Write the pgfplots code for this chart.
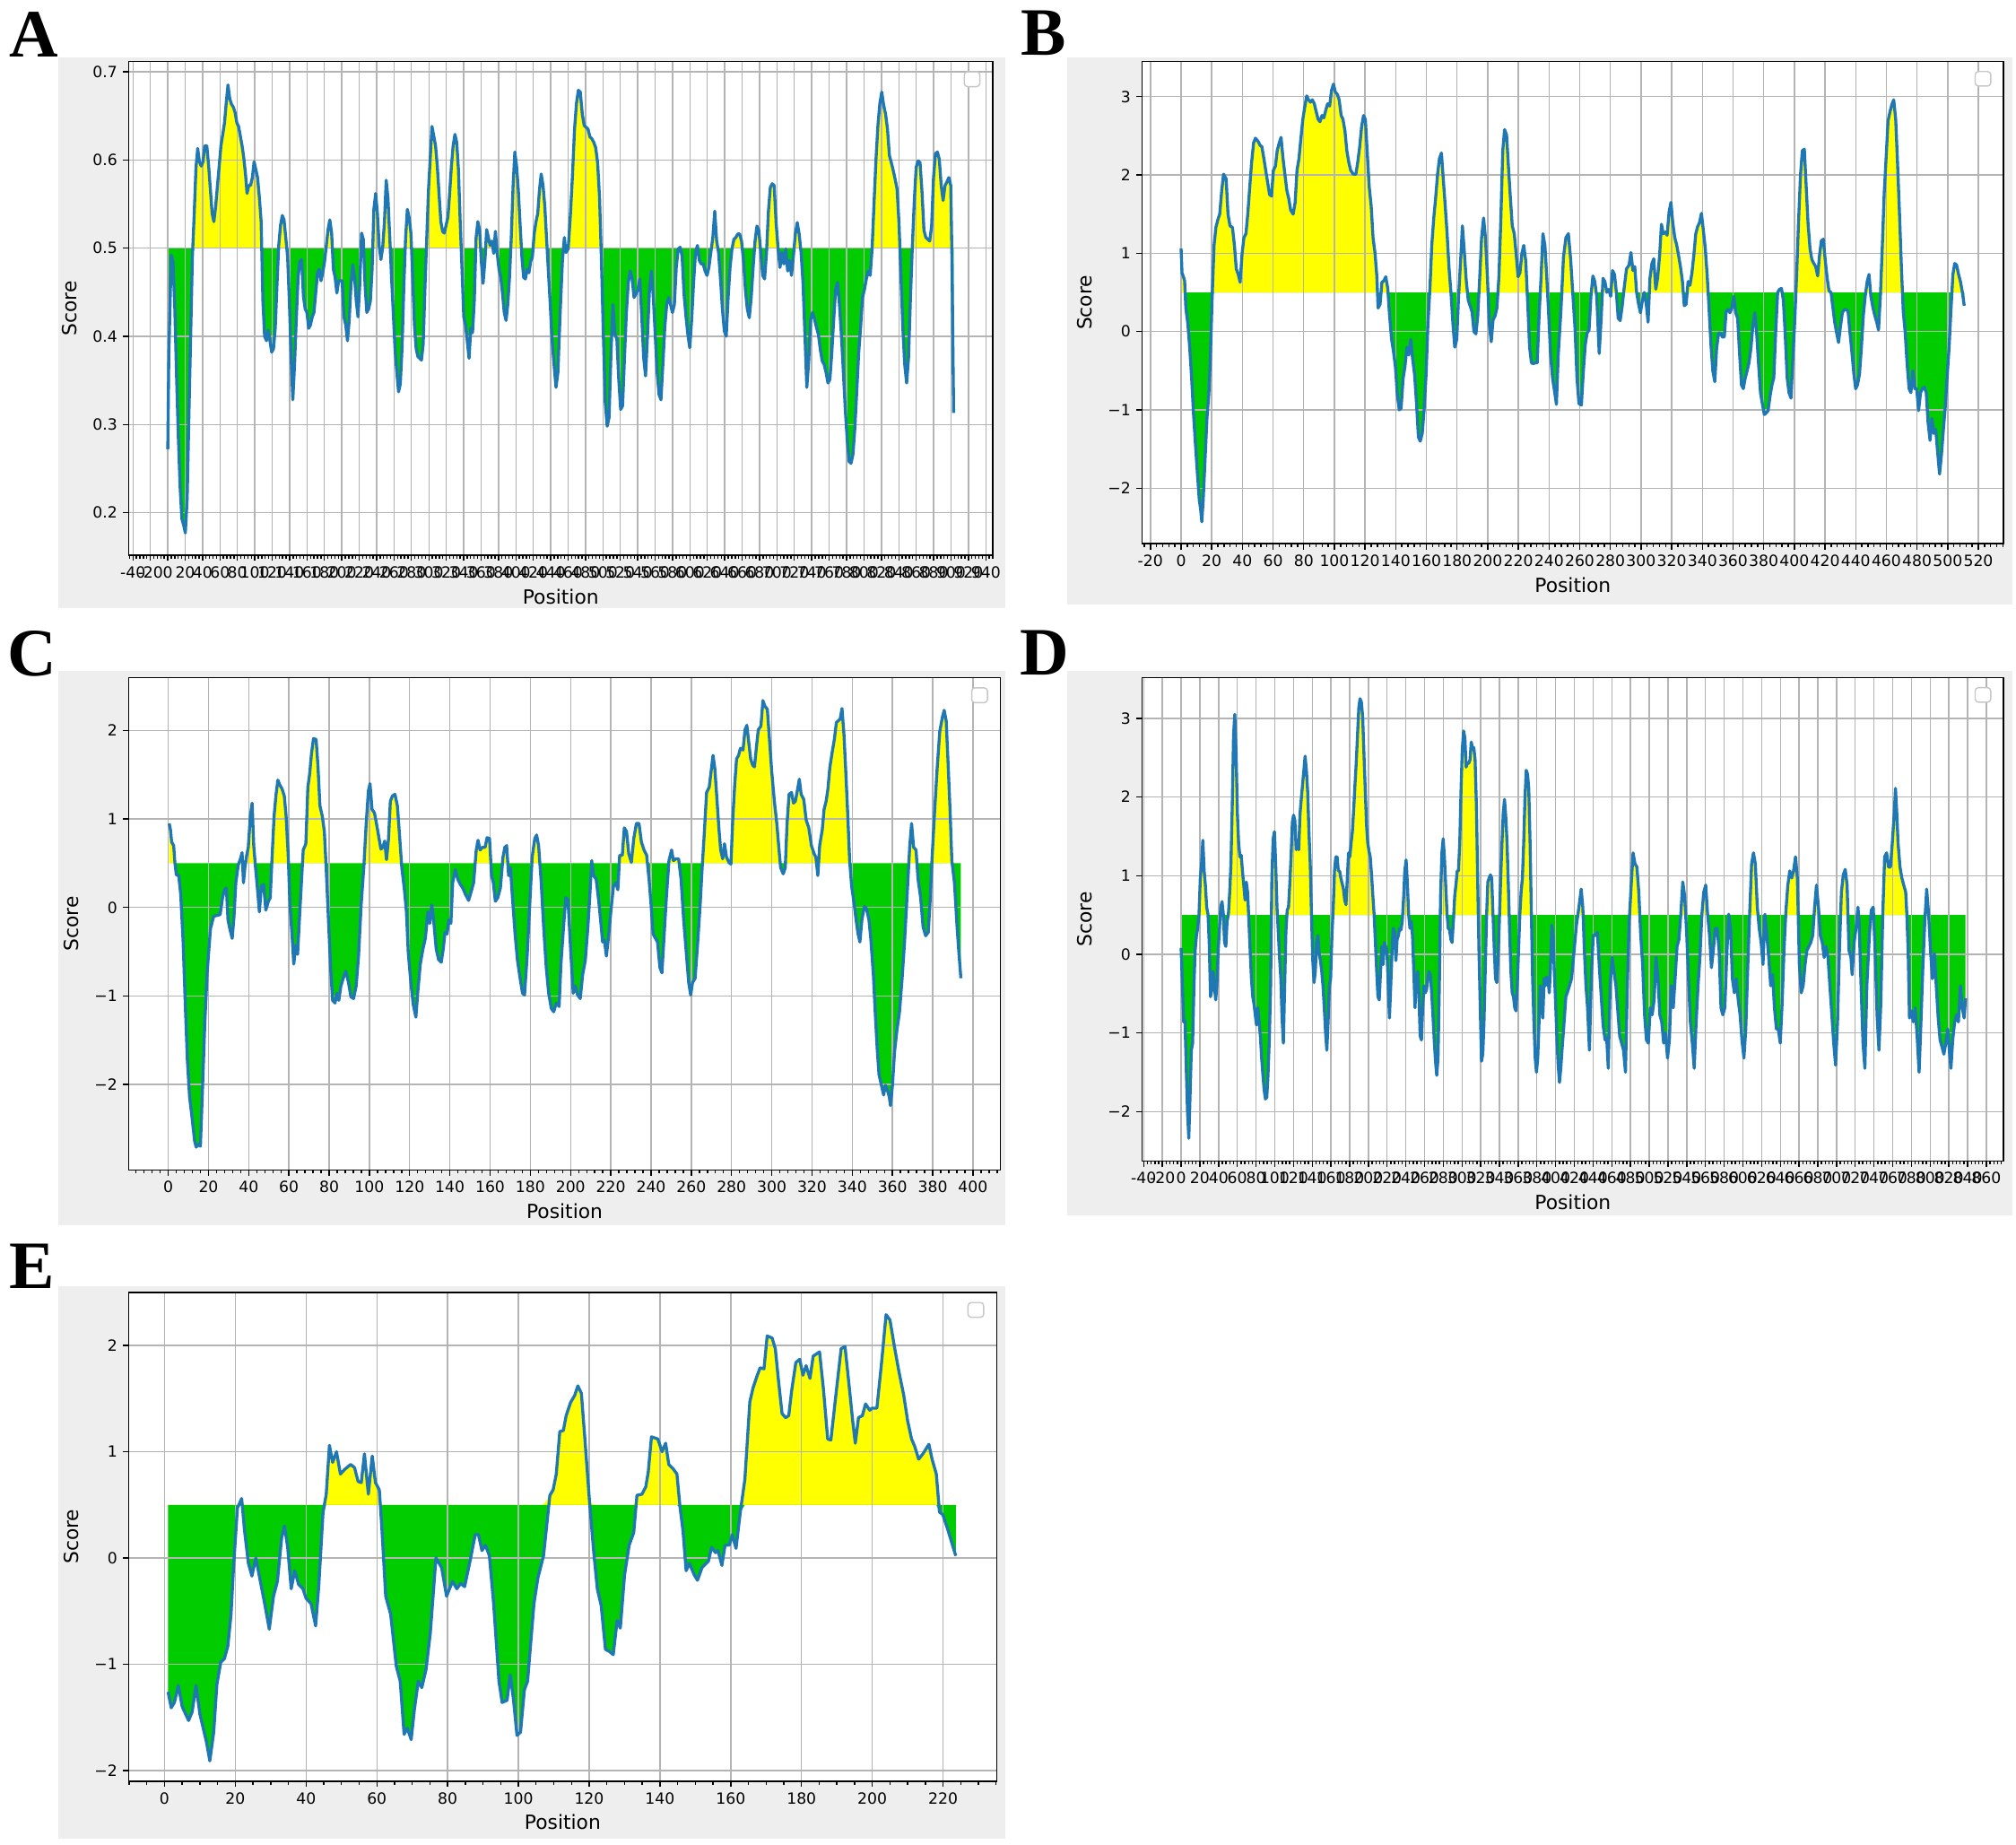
\documentclass[border=0pt]{standalone}
\usepackage{pgfplots}
\pgfplotsset{compat=1.18}
\usepackage{pgfplotstable}
\usepackage{fontspec}
\setmainfont{DejaVu Sans}
\newfontfamily\lettf{Liberation Serif}
\definecolor{panelgray}{RGB}{238,238,238}
\definecolor{gridgray}{RGB}{180,180,180}
\definecolor{mplblue}{RGB}{31,119,180}
\definecolor{fy}{RGB}{255,255,0}
\definecolor{fg}{RGB}{0,204,0}

\pgfplotstableread[row sep=\\]{x y\\
0 0.272\\ 1.2 0.377\\ 4 0.492\\ 6 0.485\\ 8.1 0.431\\ 10.1 0.355\\ 12.1 0.287\\ 14.2 0.229\\ 16.2 0.193\\ 18.2 0.186\\ 20.2 0.177\\ 22.3 0.216\\ 24.3 0.310\\ 26.3 0.400\\ 28.3 0.490\\ 30.4 0.539\\ 32.4 0.591\\ 34.4 0.613\\ 36.4 0.598\\ 38.5 0.593\\ 40.5 0.598\\ 42.5 0.616\\ 44.9 0.616\\ 47 0.593\\ 49 0.566\\ 51 0.539\\ 53 0.530\\ 55.1 0.548\\ 57.1 0.571\\ 59.1 0.593\\ 61.1 0.616\\ 63.2 0.629\\ 65.2 0.642\\ 67.2 0.665\\ 69.2 0.685\\ 71.3 0.669\\ 73.3 0.663\\ 75.3 0.660\\ 77.3 0.654\\ 79.4 0.642\\ 81.4 0.638\\ 83.4 0.627\\ 85.4 0.616\\ 87.4 0.602\\ 89.5 0.582\\ 91.1 0.562\\ 93.1 0.571\\ 95.1 0.571\\ 97.2 0.580\\ 99.2 0.598\\ 101.2 0.589\\ 103.2 0.580\\ 105.3 0.557\\ 107.3 0.530\\ 109.3 0.440\\ 111.3 0.400\\ 113.4 0.395\\ 115.4 0.407\\ 117.4 0.395\\ 119.4 0.382\\ 121.5 0.386\\ 123.5 0.409\\ 125.5 0.458\\ 127.5 0.503\\ 129.6 0.526\\ 131.6 0.537\\ 133.6 0.532\\ 135.6 0.512\\ 137.7 0.490\\ 139.7 0.440\\ 141.7 0.377\\ 143.7 0.328\\ 145.7 0.368\\ 147.8 0.422\\ 149.8 0.467\\ 151.8 0.485\\ 153.8 0.487\\ 155.9 0.445\\ 157.9 0.431\\ 159.9 0.427\\ 161.9 0.409\\ 164 0.413\\ 166 0.422\\ 168 0.427\\ 170 0.449\\ 172.1 0.472\\ 174.1 0.476\\ 176.1 0.463\\ 178.1 0.472\\ 180.2 0.485\\ 182.2 0.503\\ 184.2 0.521\\ 186.2 0.532\\ 188.3 0.517\\ 190.3 0.476\\ 192.3 0.467\\ 194.3 0.449\\ 196.4 0.463\\ 198.4 0.463\\ 200.4 0.463\\ 202.4 0.422\\ 204.5 0.413\\ 206.5 0.395\\ 208.5 0.418\\ 210.5 0.458\\ 212.6 0.481\\ 214.6 0.467\\ 216.6 0.440\\ 218.6 0.422\\ 220.6 0.458\\ 222.7 0.517\\ 224.7 0.510\\ 226.7 0.458\\ 228.7 0.427\\ 230.8 0.431\\ 232.8 0.440\\ 234.8 0.476\\ 236.8 0.544\\ 238.9 0.562\\ 240.9 0.539\\ 242.9 0.503\\ 244.9 0.487\\ 247 0.501\\ 249 0.530\\ 251 0.577\\ 253 0.557\\ 255.1 0.512\\ 257.1 0.467\\ 259.1 0.427\\ 261.1 0.386\\ 263.2 0.359\\ 265.2 0.337\\ 267.2 0.346\\ 269.2 0.386\\ 271.3 0.458\\ 273.3 0.512\\ 275.3 0.544\\ 277.3 0.535\\ 279.4 0.517\\ 281.4 0.467\\ 283.4 0.413\\ 285.4 0.386\\ 287.4 0.377\\ 289.5 0.375\\ 291.5 0.373\\ 293.5 0.391\\ 295.5 0.454\\ 297.6 0.512\\ 299.6 0.566\\ 301.6 0.602\\ 303.6 0.638\\ 305.7 0.627\\ 307.7 0.616\\ 309.7 0.593\\ 311.7 0.562\\ 313.8 0.530\\ 315.8 0.519\\ 317.8 0.517\\ 319.8 0.526\\ 321.9 0.535\\ 323.9 0.562\\ 325.9 0.593\\ 327.9 0.616\\ 330 0.629\\ 332 0.620\\ 334 0.589\\ 336 0.530\\ 338.1 0.476\\ 340.1 0.422\\ 342.1 0.413\\ 344.1 0.395\\ 346.2 0.375\\ 348.2 0.409\\ 350.2 0.404\\ 352.2 0.440\\ 354.3 0.512\\ 356.3 0.530\\ 358.3 0.521\\ 360.3 0.485\\ 362.3 0.460\\ 364.4 0.485\\ 366.4 0.521\\ 368.4 0.512\\ 370.4 0.503\\ 372.5 0.508\\ 374.5 0.494\\ 376.5 0.519\\ 378.5 0.494\\ 380.6 0.476\\ 382.6 0.467\\ 384.6 0.449\\ 386.6 0.427\\ 388.7 0.418\\ 390.7 0.436\\ 392.7 0.467\\ 394.7 0.512\\ 396.8 0.571\\ 398.8 0.609\\ 400.8 0.593\\ 402.8 0.566\\ 404.9 0.526\\ 406.9 0.490\\ 408.9 0.467\\ 410.9 0.465\\ 413 0.476\\ 415 0.472\\ 417 0.485\\ 419 0.490\\ 421.1 0.517\\ 423.1 0.530\\ 425.1 0.539\\ 427.1 0.566\\ 429.1 0.584\\ 431.2 0.571\\ 433.2 0.548\\ 435.2 0.512\\ 437.2 0.476\\ 439.3 0.440\\ 441.3 0.400\\ 443.5 0.372\\ 446.1 0.342\\ 448.3 0.359\\ 450.9 0.427\\ 453.5 0.486\\ 455.7 0.512\\ 457.5 0.495\\ 460.1 0.499\\ 462.6 0.537\\ 464.9 0.580\\ 467.4 0.635\\ 469.6 0.664\\ 471.8 0.679\\ 474 0.677\\ 476.3 0.652\\ 478.5 0.639\\ 480.7 0.637\\ 482.9 0.635\\ 485.1 0.626\\ 487.3 0.624\\ 489.5 0.620\\ 491.7 0.614\\ 493.9 0.597\\ 496.1 0.558\\ 498.3 0.486\\ 500.5 0.402\\ 502.7 0.325\\ 504.9 0.298\\ 507.1 0.308\\ 509.3 0.381\\ 511.5 0.436\\ 513.8 0.402\\ 516 0.397\\ 518.2 0.351\\ 520.4 0.317\\ 522.6 0.321\\ 524.8 0.376\\ 527 0.427\\ 529.2 0.461\\ 531.4 0.474\\ 533.6 0.465\\ 535.8 0.444\\ 538 0.448\\ 540.2 0.453\\ 542.4 0.465\\ 544.6 0.423\\ 546.8 0.376\\ 549 0.355\\ 551.3 0.402\\ 553.5 0.453\\ 555.7 0.474\\ 557.9 0.444\\ 560.1 0.402\\ 562.3 0.359\\ 564.5 0.334\\ 566.7 0.328\\ 568.9 0.368\\ 571.1 0.410\\ 573.3 0.436\\ 575.5 0.444\\ 577.7 0.436\\ 579.9 0.427\\ 582.1 0.436\\ 584.3 0.478\\ 586.5 0.499\\ 588.8 0.501\\ 591 0.491\\ 593.2 0.448\\ 595.4 0.423\\ 597.6 0.402\\ 599.8 0.387\\ 602 0.419\\ 604.2 0.461\\ 606.4 0.495\\ 608.6 0.503\\ 610.8 0.486\\ 613 0.482\\ 615.2 0.482\\ 617.4 0.474\\ 619.6 0.469\\ 621.8 0.478\\ 624 0.495\\ 626.3 0.512\\ 628.5 0.542\\ 630.7 0.508\\ 632.9 0.495\\ 635.1 0.465\\ 637.3 0.431\\ 639.5 0.406\\ 641.7 0.400\\ 643.9 0.444\\ 646.1 0.478\\ 648.3 0.499\\ 650.5 0.510\\ 652.7 0.512\\ 654.9 0.516\\ 657.1 0.516\\ 659.3 0.508\\ 661.5 0.486\\ 663.7 0.453\\ 665.9 0.431\\ 668.2 0.421\\ 670.4 0.444\\ 672.6 0.478\\ 674.8 0.508\\ 677 0.525\\ 679.2 0.520\\ 681.4 0.495\\ 683.6 0.469\\ 685.8 0.465\\ 688 0.495\\ 690.2 0.542\\ 692.4 0.569\\ 694.6 0.573\\ 696.8 0.571\\ 699 0.529\\ 701.3 0.499\\ 703.5 0.478\\ 705.7 0.495\\ 707.9 0.482\\ 710.1 0.499\\ 712.3 0.474\\ 714.5 0.486\\ 716.7 0.469\\ 718.9 0.491\\ 721.1 0.516\\ 723.3 0.529\\ 725.5 0.516\\ 727.7 0.495\\ 729.9 0.461\\ 732.1 0.402\\ 734.3 0.342\\ 736.5 0.372\\ 738.7 0.419\\ 740.9 0.427\\ 743.2 0.419\\ 745.4 0.410\\ 747.6 0.402\\ 749.8 0.385\\ 752 0.372\\ 754.2 0.368\\ 756.4 0.359\\ 758.6 0.347\\ 760.8 0.351\\ 763 0.381\\ 765.2 0.419\\ 767.4 0.453\\ 769.6 0.461\\ 771.8 0.436\\ 774 0.402\\ 776.3 0.359\\ 778.5 0.317\\ 780.7 0.283\\ 782.9 0.258\\ 785.1 0.256\\ 787.3 0.266\\ 789.5 0.296\\ 791.7 0.338\\ 793.9 0.381\\ 796.1 0.410\\ 798.3 0.444\\ 800.5 0.453\\ 802.7 0.465\\ 804.9 0.474\\ 807.1 0.469\\ 809.3 0.499\\ 811.5 0.550\\ 813.8 0.601\\ 816 0.639\\ 818.2 0.664\\ 820.4 0.677\\ 822.6 0.662\\ 824.8 0.652\\ 827 0.635\\ 829.2 0.605\\ 831.4 0.597\\ 833.6 0.588\\ 835.8 0.578\\ 838 0.567\\ 840.2 0.529\\ 842.4 0.469\\ 844.6 0.410\\ 846.8 0.368\\ 849 0.347\\ 851.2 0.376\\ 853.4 0.444\\ 855.6 0.503\\ 857.8 0.554\\ 860 0.592\\ 862.2 0.599\\ 864.4 0.597\\ 866.7 0.563\\ 868.9 0.520\\ 871.1 0.512\\ 873.3 0.510\\ 875.5 0.508\\ 877.7 0.525\\ 879.9 0.580\\ 882.1 0.607\\ 884.3 0.609\\ 886.5 0.601\\ 888.7 0.571\\ 890.9 0.554\\ 893.1 0.571\\ 895.3 0.575\\ 897.5 0.580\\ 899.7 0.571\\ 901.1 0.486\\ 903 0.313\\
}\dA

\pgfplotstableread[row sep=\\]{x y\\
0 1.06\\ 0.6 0.75\\ 1.5 0.70\\ 2.3 0.65\\ 3.1 0.30\\ 4.4 0.10\\ 5.6 -0.20\\ 6.9 -0.60\\ 8.1 -1.05\\ 9.4 -1.45\\ 10.6 -1.80\\ 11.9 -2.16\\ 12.7 -2.26\\ 13.5 -2.43\\ 14.4 -2.16\\ 15.6 -1.65\\ 16.9 -1.10\\ 18.1 -0.80\\ 19 -0.40\\ 20.2 0.40\\ 21.5 1.10\\ 22.7 1.33\\ 24 1.43\\ 25.2 1.50\\ 26.5 1.80\\ 27.7 2.01\\ 29.4 1.95\\ 30.6 1.50\\ 31.9 1.35\\ 33.5 1.33\\ 34.8 1.10\\ 36 0.80\\ 37.3 0.73\\ 38.5 0.63\\ 39.8 1.00\\ 41 1.20\\ 42.3 1.25\\ 43.5 1.50\\ 44.8 1.85\\ 46 2.16\\ 47.3 2.41\\ 48.5 2.47\\ 50.2 2.43\\ 51.5 2.38\\ 52.7 2.36\\ 54 2.21\\ 55.2 2.06\\ 56.5 1.90\\ 57.7 1.75\\ 59 1.73\\ 60.2 2.06\\ 61.5 2.11\\ 62.7 2.31\\ 64 2.41\\ 65.2 2.48\\ 66.5 2.21\\ 67.7 2.01\\ 69 1.80\\ 70.2 1.70\\ 71.5 1.55\\ 73.1 1.50\\ 74.4 1.65\\ 75.6 2.06\\ 76.9 2.21\\ 78.1 2.46\\ 79.4 2.71\\ 80.6 2.86\\ 81.9 3.01\\ 83.1 2.96\\ 84.4 2.93\\ 85.6 2.96\\ 86.9 2.91\\ 88.1 2.81\\ 89.4 2.71\\ 90.6 2.68\\ 91.9 2.76\\ 93.1 2.73\\ 94.4 2.83\\ 95.6 2.91\\ 96.9 2.88\\ 98.1 3.08\\ 99.4 3.16\\ 100.6 3.06\\ 101.9 3.03\\ 103.1 2.96\\ 104.4 2.76\\ 105.6 2.71\\ 106.9 2.56\\ 108.1 2.31\\ 109.4 2.16\\ 110.6 2.06\\ 112.3 2.01\\ 114 2.01\\ 115.2 2.16\\ 116.5 2.36\\ 117.7 2.61\\ 119 2.76\\ 120.2 2.71\\ 121.5 2.26\\ 122.7 1.85\\ 124 1.60\\ 125.2 1.20\\ 126.5 1.00\\ 127.7 0.70\\ 128.5 0.30\\ 129.8 0.35\\ 131 0.63\\ 132.3 0.65\\ 133.5 0.70\\ 134.8 0.55\\ 136 0.20\\ 137.3 -0.10\\ 138.5 -0.25\\ 139.8 -0.45\\ 141 -0.80\\ 142.3 -1.00\\ 143.5 -0.98\\ 144.8 -0.60\\ 146 -0.45\\ 147.3 -0.20\\ 148.5 -0.30\\ 149.8 -0.10\\ 151 -0.35\\ 152.3 -0.55\\ 153.5 -0.90\\ 154.8 -1.35\\ 156 -1.40\\ 157.3 -1.30\\ 158.5 -1.00\\ 159.8 -0.55\\ 161 0.10\\ 162.3 0.55\\ 163.5 1.10\\ 164.8 1.45\\ 166 1.70\\ 167.3 2.01\\ 168.5 2.21\\ 169.8 2.28\\ 171 1.95\\ 172.3 1.60\\ 173.5 1.25\\ 174.8 0.80\\ 176 0.50\\ 177.3 0.10\\ 178.5 -0.20\\ 179.8 -0.10\\ 181 0.45\\ 182.3 0.90\\ 183.5 1.35\\ 184.8 1.00\\ 186 0.65\\ 187.3 0.40\\ 188.5 0.33\\ 189.8 0.25\\ 191 0.00\\ 192.3 -0.03\\ 193.5 0.20\\ 194.8 0.70\\ 196 1.20\\ 197.3 1.45\\ 198.5 1.20\\ 199.8 0.70\\ 201 0.10\\ 202.3 -0.13\\ 203.5 0.15\\ 204.8 0.20\\ 206 0.30\\ 207.3 0.70\\ 208.5 1.40\\ 209.8 2.31\\ 211 2.58\\ 212.3 2.51\\ 213.5 2.11\\ 214.8 1.70\\ 216 1.35\\ 217.3 1.25\\ 218.5 1.00\\ 219.8 0.70\\ 221 0.75\\ 222.3 1.00\\ 223.5 1.10\\ 224.8 0.90\\ 226 0.40\\ 227.3 -0.20\\ 228.5 -0.40\\ 229.8 -0.41\\ 231 -0.40\\ 232.3 -0.40\\ 233.5 0.20\\ 234.8 0.70\\ 236 1.25\\ 237.3 1.10\\ 238.5 0.70\\ 239.8 0.20\\ 241 -0.30\\ 242.3 -0.60\\ 243.5 -0.75\\ 244.8 -0.93\\ 246 -0.30\\ 247.7 0.25\\ 249.4 0.95\\ 251 1.20\\ 252.6 1.25\\ 254.1 0.92\\ 255.3 0.54\\ 257 0.02\\ 258.2 -0.59\\ 259.5 -0.92\\ 261.1 -0.94\\ 262.4 -0.50\\ 263.6 -0.17\\ 264.8 -0.02\\ 266.1 0.02\\ 267.3 0.45\\ 268.6 0.71\\ 269.8 0.64\\ 271.1 0.45\\ 272.7 -0.28\\ 274 0.17\\ 275.2 0.68\\ 276.4 0.64\\ 277.7 0.50\\ 278.9 0.54\\ 280.2 0.45\\ 281.4 0.78\\ 282.7 0.73\\ 283.9 0.50\\ 285.1 0.17\\ 286.4 0.14\\ 287.6 0.31\\ 288.9 0.54\\ 290.5 0.80\\ 292.2 0.85\\ 293.4 1.01\\ 294.7 0.78\\ 295.9 0.83\\ 297.1 0.50\\ 298.4 0.35\\ 299.6 0.24\\ 300.9 0.40\\ 302.1 0.50\\ 303.4 0.35\\ 304.6 0.12\\ 305.8 0.68\\ 307.1 0.87\\ 308.3 0.93\\ 309.6 0.54\\ 310.8 0.68\\ 312.1 0.97\\ 313.3 1.37\\ 314.5 1.25\\ 315.8 1.27\\ 317 1.23\\ 318.3 1.53\\ 319.5 1.65\\ 320.7 1.39\\ 322 1.20\\ 323.2 1.11\\ 324.5 0.97\\ 325.7 0.83\\ 327 0.64\\ 328.2 0.33\\ 329.4 0.35\\ 330.7 0.64\\ 331.9 0.59\\ 333.2 0.75\\ 334.4 0.97\\ 335.7 1.25\\ 336.9 1.34\\ 338.1 1.39\\ 339.4 1.51\\ 340.6 1.30\\ 341.9 1.06\\ 343.1 0.73\\ 344.3 0.31\\ 345.6 -0.17\\ 346.8 -0.50\\ 348.1 -0.64\\ 349.3 -0.21\\ 350.6 -0.02\\ 351.8 -0.02\\ 353 -0.07\\ 354.3 -0.07\\ 355.5 0.26\\ 356.8 0.28\\ 358 0.24\\ 359.3 0.31\\ 360.5 0.45\\ 361.7 0.24\\ 363 0.17\\ 364.2 -0.26\\ 365.5 -0.68\\ 366.7 -0.73\\ 368 -0.59\\ 369.2 -0.50\\ 370.4 -0.40\\ 371.7 -0.21\\ 372.9 0.07\\ 374.2 0.24\\ 375.4 -0.02\\ 376.6 -0.40\\ 377.9 -0.78\\ 379.1 -0.92\\ 380.4 -1.06\\ 381.6 -1.04\\ 382.9 -1.01\\ 384.1 -0.83\\ 385.4 -0.68\\ 386.6 -0.59\\ 387.8 -0.02\\ 389.1 0.50\\ 390.3 0.54\\ 391.6 0.55\\ 392.8 0.40\\ 394 -0.02\\ 395.3 -0.59\\ 396.5 -0.78\\ 397.8 -0.85\\ 399 -0.35\\ 400.2 0.12\\ 401.5 0.73\\ 402.7 1.39\\ 404 2.00\\ 405.2 2.31\\ 406.5 2.33\\ 407.7 1.86\\ 408.9 1.39\\ 410.2 1.06\\ 411.4 0.92\\ 412.7 0.87\\ 413.9 0.83\\ 415.2 0.71\\ 416.4 0.97\\ 417.6 1.16\\ 418.9 1.18\\ 420.1 0.92\\ 421.4 0.68\\ 422.6 0.52\\ 423.9 0.50\\ 425.1 0.31\\ 426.3 0.12\\ 427.6 -0.02\\ 428.8 -0.14\\ 430.1 0.07\\ 431.3 0.24\\ 432.5 0.28\\ 433.8 0.28\\ 435 0.26\\ 436.3 -0.02\\ 437.5 -0.26\\ 438.8 -0.54\\ 440 -0.73\\ 441.2 -0.68\\ 442.5 -0.54\\ 443.7 -0.21\\ 445 0.21\\ 446.2 0.45\\ 447.5 0.64\\ 448.7 0.73\\ 449.9 0.45\\ 451.2 0.31\\ 452.4 0.21\\ 453.7 0.12\\ 454.9 0.02\\ 456.1 0.45\\ 457.4 1.11\\ 458.6 1.77\\ 459.9 2.24\\ 461.1 2.69\\ 462.4 2.81\\ 463.6 2.90\\ 464.8 2.96\\ 466.1 2.71\\ 467.3 2.15\\ 468.6 1.49\\ 469.8 0.83\\ 471 0.26\\ 472.3 -0.02\\ 473.5 -0.40\\ 474.8 -0.73\\ 476 -0.78\\ 477.3 -0.50\\ 478.5 -0.73\\ 479.8 -0.73\\ 481 -1.01\\ 482.3 -0.78\\ 483.5 -0.73\\ 484.7 -0.71\\ 486 -0.78\\ 487.2 -1.16\\ 488.5 -1.39\\ 489.7 -1.11\\ 490.9 -1.30\\ 492.2 -1.25\\ 493.4 -1.53\\ 494.7 -1.82\\ 495.9 -1.58\\ 497.2 -1.25\\ 498.4 -0.97\\ 499.6 -0.59\\ 500.9 -0.21\\ 502.1 0.26\\ 503.4 0.73\\ 504.6 0.87\\ 505.8 0.85\\ 507.1 0.73\\ 508.3 0.64\\ 509.6 0.50\\ 510.8 0.33\\
}\dB

\pgfplotstableread[row sep=\\]{x y\\
0.5 0.95\\ 1.1 0.88\\ 1.7 0.74\\ 2.7 0.70\\ 3.3 0.51\\ 4 0.37\\ 5.2 0.36\\ 6.2 0.15\\ 7.4 -0.39\\ 8.4 -1.05\\ 9.5 -1.72\\ 10.6 -2.14\\ 11.8 -2.37\\ 13.1 -2.64\\ 13.9 -2.71\\ 15 -2.68\\ 16 -2.70\\ 16.9 -2.14\\ 18.2 -1.30\\ 19.4 -0.72\\ 21 -0.24\\ 22.6 -0.10\\ 24.2 -0.09\\ 25.8 -0.08\\ 27 0.11\\ 28 0.20\\ 28.9 0.22\\ 29.7 -0.14\\ 30.8 -0.26\\ 31.8 -0.35\\ 32.7 -0.10\\ 33.6 0.28\\ 34.8 0.48\\ 35.9 0.55\\ 36.7 0.62\\ 37.4 0.28\\ 38.1 0.45\\ 39 0.59\\ 39.8 0.68\\ 40.8 1.03\\ 41.7 1.18\\ 42.5 0.70\\ 43.4 0.45\\ 44.4 0.20\\ 45.3 -0.05\\ 46.3 0.24\\ 47.4 0.26\\ 48.5 -0.03\\ 49.8 0.07\\ 50.7 0.11\\ 51.7 0.61\\ 52.6 1.03\\ 53.6 1.28\\ 54.5 1.44\\ 55.6 1.38\\ 56.6 1.34\\ 57.7 1.26\\ 58.6 1.03\\ 59.6 0.61\\ 60.5 0.03\\ 61.5 -0.30\\ 62.4 -0.64\\ 63.4 -0.43\\ 64.3 -0.53\\ 65.2 -0.14\\ 66.2 0.28\\ 67.1 0.65\\ 68.4 0.72\\ 69.4 1.36\\ 70.3 1.51\\ 71.2 1.74\\ 72.2 1.91\\ 73.5 1.90\\ 74.4 1.61\\ 75.4 1.15\\ 76.6 1.03\\ 77.6 0.86\\ 78.5 0.45\\ 79.8 -0.22\\ 80.7 -0.68\\ 81.7 -1.05\\ 82.9 -1.08\\ 83.9 -0.97\\ 84.8 -1.05\\ 85.8 -0.89\\ 87 -0.80\\ 88.3 -0.72\\ 89.6 -0.85\\ 90.8 -1.01\\ 92.1 -1.03\\ 93.4 -0.89\\ 94.6 -0.55\\ 95.9 0.03\\ 97.2 0.45\\ 98.4 0.95\\ 99.5 1.32\\ 100.3 1.40\\ 101.3 1.11\\ 102.5 1.07\\ 103.5 0.95\\ 104.8 0.78\\ 105.7 0.66\\ 106.6 0.68\\ 107.6 0.75\\ 108.5 0.54\\ 109.5 0.78\\ 110.4 1.20\\ 111.4 1.26\\ 112.7 1.28\\ 113.9 1.15\\ 114.9 0.84\\ 116.1 0.45\\ 117.4 0.20\\ 118.4 -0.05\\ 119.3 -0.51\\ 120.6 -0.85\\ 121.8 -1.10\\ 123.1 -1.24\\ 124 -0.97\\ 125.3 -0.64\\ 126.6 -0.47\\ 127.8 -0.35\\ 129.1 -0.05\\ 130 -0.18\\ 131 0.03\\ 131.9 -0.14\\ 133.2 -0.47\\ 134.4 -0.59\\ 135.7 -0.62\\ 136.7 -0.47\\ 137.6 -0.28\\ 138.6 -0.30\\ 139.5 -0.14\\ 140.5 -0.18\\ 141.4 0.28\\ 142.7 0.43\\ 143.9 0.32\\ 145.2 0.26\\ 146.4 0.22\\ 147.7 0.15\\ 149.3 0.08\\ 150.6 0.18\\ 151.8 0.28\\ 153.1 0.65\\ 154 0.76\\ 155 0.65\\ 156.2 0.68\\ 157.5 0.68\\ 158.5 0.79\\ 159.7 0.78\\ 160.7 0.36\\ 161.6 0.28\\ 162.6 0.07\\ 163.8 0.11\\ 165.1 0.22\\ 166.4 0.57\\ 167.3 0.68\\ 168.2 0.70\\ 169.2 0.36\\ 170.1 0.45\\ 171.1 0.11\\ 172.4 -0.30\\ 173.6 -0.60\\ 174.9 -0.80\\ 176.1 -0.97\\ 177.1 -0.99\\ 178.4 -0.55\\ 179.7 0.03\\ 180.9 0.57\\ 182.2 0.78\\ 183.1 0.82\\ 184.1 0.70\\ 185.4 0.28\\ 186.6 -0.22\\ 187.9 -0.68\\ 189.1 -0.97\\ 190.4 -1.14\\ 191.6 -1.18\\ 192.9 -1.08\\ 194.3 -1.12\\ 195.2 -0.64\\ 196.5 -0.22\\ 197.6 0.11\\ 198.7 0.09\\ 200 -0.47\\ 201.3 -0.97\\ 202.4 -0.89\\ 203.5 -0.99\\ 204.8 -1.03\\ 206 -0.76\\ 207.3 -0.60\\ 208.6 -0.22\\ 209.5 0.11\\ 210.5 0.53\\ 211.4 0.36\\ 212.7 0.32\\ 214 0.07\\ 214.9 -0.14\\ 215.9 -0.39\\ 216.8 -0.37\\ 217.8 -0.55\\ 219 -0.30\\ 220 -0.05\\ 221.3 0.24\\ 222.5 0.28\\ 223.5 0.20\\ 224.4 0.59\\ 225.7 0.59\\ 226.7 0.90\\ 227.8 0.86\\ 228.9 0.61\\ 230.2 0.51\\ 231.4 0.78\\ 232.7 0.95\\ 234 0.95\\ 235.2 0.74\\ 236.5 0.65\\ 237.8 0.59\\ 239 0.32\\ 240 0.03\\ 241 -0.30\\ 242.2 -0.35\\ 243.2 -0.39\\ 244.4 -0.68\\ 245.4 -0.74\\ 246.3 -0.39\\ 247.6 0.11\\ 248.9 0.53\\ 250.2 0.65\\ 251.1 0.53\\ 252.4 0.55\\ 253.7 0.55\\ 254.9 0.32\\ 256.2 -0.14\\ 257.5 -0.51\\ 258.7 -0.85\\ 259.7 -0.99\\ 260.6 -0.85\\ 261.9 -0.80\\ 263.2 -0.39\\ 264.4 0.03\\ 265.4 0.45\\ 266.3 0.78\\ 267.6 1.30\\ 268.9 1.36\\ 269.8 1.53\\ 270.8 1.72\\ 271.7 1.57\\ 272.7 1.24\\ 273.7 0.90\\ 274.6 0.65\\ 275.6 0.55\\ 276.5 0.72\\ 277.5 0.57\\ 278.7 0.51\\ 279.7 0.49\\ 280.6 0.99\\ 281.6 1.40\\ 282.5 1.68\\ 283.5 1.72\\ 284.4 1.80\\ 285.7 1.78\\ 286.7 2.01\\ 287.6 2.06\\ 288.6 1.86\\ 289.5 1.68\\ 290.5 1.61\\ 291.4 1.59\\ 292.4 1.82\\ 293.3 2.01\\ 294.6 2.05\\ 295.6 2.34\\ 296.5 2.28\\ 297.8 2.24\\ 298.7 1.95\\ 300 1.53\\ 301.3 1.20\\ 302.5 0.95\\ 303.5 0.68\\ 304.4 0.45\\ 305.7 0.38\\ 306.7 0.45\\ 307.6 0.95\\ 308.6 1.28\\ 309.8 1.30\\ 310.8 1.18\\ 311.7 1.20\\ 312.7 1.32\\ 313.7 1.45\\ 314.6 1.28\\ 315.9 1.22\\ 317.1 0.99\\ 318.4 0.90\\ 319.7 0.70\\ 321 0.61\\ 321.9 0.57\\ 322.9 0.36\\ 323.8 0.70\\ 325.1 0.88\\ 326 1.11\\ 327 1.20\\ 327.9 1.34\\ 328.9 1.59\\ 330.2 1.78\\ 331.1 1.90\\ 332.1 2.09\\ 333 2.11\\ 334 2.13\\ 334.9 2.25\\ 335.9 1.95\\ 336.8 1.53\\ 337.8 1.03\\ 338.7 0.53\\ 339.7 0.24\\ 341 0.03\\ 341.9 -0.14\\ 342.9 -0.30\\ 343.8 -0.39\\ 344.8 -0.14\\ 346 0.01\\ 347 -0.01\\ 348.3 -0.14\\ 349.2 -0.35\\ 350.5 -0.76\\ 351.4 -1.18\\ 352.4 -1.60\\ 353.3 -1.89\\ 354.3 -1.99\\ 355.6 -2.12\\ 356.5 -2.01\\ 357.5 -2.07\\ 358.4 -2.14\\ 359 -2.24\\ 360 -2.01\\ 361 -1.64\\ 362.2 -1.39\\ 363.5 -1.18\\ 364.8 -0.80\\ 366 -0.39\\ 367.3 0.15\\ 368.6 0.70\\ 369.5 0.95\\ 370.5 0.68\\ 371.7 0.65\\ 372.7 0.32\\ 374 0.11\\ 375.2 -0.22\\ 376.5 -0.32\\ 377.8 -0.28\\ 378.7 0.07\\ 379.7 0.57\\ 381 1.11\\ 382.2 1.57\\ 383.5 1.99\\ 384.8 2.15\\ 385.7 2.23\\ 386.7 2.11\\ 387.6 1.65\\ 388.6 1.11\\ 389.5 0.53\\ 390.8 0.28\\ 392.1 -0.22\\ 393 -0.51\\ 394 -0.80\\
}\dC

\pgfplotstableread[row sep=\\]{x y\\
0 0.08\\ 1.4 -0.40\\ 2.7 -0.86\\ 4.1 -0.84\\ 5.5 -1.45\\ 6.8 -2.00\\ 8.2 -2.34\\ 9.6 -1.78\\ 10.9 -1.22\\ 12.3 -1.13\\ 13.7 -0.40\\ 15 0.05\\ 16.4 0.24\\ 17.7 0.33\\ 19.1 0.51\\ 20.5 0.97\\ 21.8 1.15\\ 23.2 1.45\\ 24.6 1.06\\ 25.9 0.88\\ 27.3 0.60\\ 28.7 0.51\\ 30 0.15\\ 31.4 -0.54\\ 32.8 -0.45\\ 34.1 -0.22\\ 35.5 -0.40\\ 36.9 -0.58\\ 38.2 -0.40\\ 39.6 0.05\\ 41 0.33\\ 42.3 0.60\\ 43.7 0.67\\ 45.1 0.51\\ 46.4 0.15\\ 47.8 0.10\\ 49.1 0.42\\ 50.5 0.51\\ 51.9 0.79\\ 53.2 1.15\\ 54.6 1.88\\ 56 2.79\\ 57.3 3.05\\ 58.7 2.57\\ 60.1 1.79\\ 61.4 1.42\\ 62.8 1.24\\ 64.2 1.26\\ 65.5 1.06\\ 66.9 0.88\\ 68.3 0.69\\ 69.6 0.92\\ 71 0.79\\ 72.4 0.42\\ 73.7 0.05\\ 75.1 -0.31\\ 76.5 -0.54\\ 77.8 -0.63\\ 79.2 -0.77\\ 80.5 -0.90\\ 81.9 -0.68\\ 83.3 -0.86\\ 84.6 -1.04\\ 86 -1.32\\ 87.4 -1.54\\ 88.7 -1.73\\ 90.1 -1.84\\ 91.5 -1.82\\ 92.8 -1.54\\ 94.2 -1.09\\ 95.6 -0.40\\ 96.9 0.97\\ 98.3 1.47\\ 99.7 1.56\\ 101 1.15\\ 102.4 0.60\\ 103.8 0.28\\ 105.1 -0.04\\ 106.5 -0.31\\ 107.8 -0.81\\ 109.2 -1.13\\ 110.6 -0.40\\ 111.9 0.28\\ 113.3 0.56\\ 114.7 0.60\\ 116 0.88\\ 117.4 1.24\\ 118.8 1.68\\ 120.1 1.77\\ 121.5 1.70\\ 122.9 1.33\\ 124.2 1.42\\ 125.6 1.33\\ 127 1.79\\ 128.3 1.97\\ 129.7 2.16\\ 131.1 2.34\\ 132.4 2.52\\ 133.8 2.34\\ 135.2 2.06\\ 136.5 1.56\\ 137.9 1.15\\ 139.2 0.51\\ 140.6 -0.08\\ 142 -0.36\\ 143.3 -0.22\\ 144.7 0.15\\ 146.1 0.24\\ 147.4 0.01\\ 148.8 -0.08\\ 150.2 -0.22\\ 151.5 -0.40\\ 152.9 -0.68\\ 154.3 -1.00\\ 155.6 -1.22\\ 157 -0.86\\ 158.4 -0.40\\ 159.7 -0.31\\ 161.1 0.24\\ 162.5 0.60\\ 163.8 1.06\\ 165.2 1.24\\ 166.6 1.24\\ 167.9 1.06\\ 169.3 1.06\\ 170.6 0.97\\ 172 0.90\\ 173.4 0.83\\ 174.7 0.69\\ 176.1 0.63\\ 177.5 0.97\\ 178.8 1.29\\ 180.2 1.24\\ 181.6 1.42\\ 182.9 1.56\\ 184.3 1.84\\ 185.7 2.16\\ 187 2.43\\ 188.4 2.79\\ 189.8 3.14\\ 191.1 3.25\\ 192.5 3.21\\ 193.9 3.02\\ 195.2 2.57\\ 196.6 2.11\\ 198 1.65\\ 199.3 1.42\\ 200.7 1.31\\ 202 1.24\\ 203.4 1.01\\ 204.8 0.74\\ 206.1 0.51\\ 207.5 0.15\\ 208.9 -0.22\\ 210.2 -0.54\\ 211.6 -0.58\\ 213 -0.22\\ 214.3 0.10\\ 215.7 -0.13\\ 217.1 0.15\\ 218.4 0.10\\ 219.8 0.05\\ 221.2 -0.40\\ 222.5 -0.81\\ 223.9 -0.40\\ 225.3 0.05\\ 226.6 0.33\\ 228 0.28\\ 229.4 -0.08\\ 230.7 0.19\\ 232.1 0.24\\ 233.4 0.33\\ 234.8 0.31\\ 236.2 0.42\\ 237.5 0.69\\ 238.9 1.06\\ 240.3 1.20\\ 241.6 0.92\\ 243 0.51\\ 244.4 0.33\\ 245.7 0.42\\ 247.1 0.24\\ 248.5 -0.22\\ 249.8 -0.68\\ 251.2 -0.31\\ 252.6 -0.22\\ 253.9 -0.49\\ 255.3 -1.04\\ 256.7 -1.09\\ 258 -0.68\\ 259.4 -0.40\\ 260.8 -0.49\\ 262.1 -0.45\\ 263.5 -0.31\\ 264.8 -0.22\\ 266.2 -0.26\\ 267.6 -0.49\\ 268.9 -0.77\\ 270.3 -1.09\\ 271.7 -1.36\\ 273 -1.54\\ 274.4 -1.32\\ 275.8 -0.40\\ 277.1 0.74\\ 278.5 1.29\\ 279.9 1.47\\ 281.2 1.24\\ 282.6 0.88\\ 284 0.51\\ 285.3 0.33\\ 286.7 0.31\\ 288.1 0.19\\ 289.4 0.15\\ 290.8 0.42\\ 292.2 0.74\\ 293.5 0.88\\ 294.9 1.06\\ 296.2 1.06\\ 297.6 1.42\\ 299 2.11\\ 300.3 2.61\\ 301.7 2.84\\ 303.1 2.75\\ 304.4 2.38\\ 305.8 2.43\\ 307.2 2.43\\ 308.5 2.47\\ 309.9 2.70\\ 311.3 2.61\\ 312.6 2.63\\ 314 2.47\\ 315.4 1.88\\ 316.7 0.97\\ 318.1 0.05\\ 319.5 -0.68\\ 320.8 -1.36\\ 322.2 -1.27\\ 323.5 -0.86\\ 324.9 -0.17\\ 326.3 0.51\\ 327.6 0.92\\ 329 0.97\\ 330.4 1.01\\ 331.7 0.97\\ 333.1 0.51\\ 334.5 0.05\\ 335.8 -0.31\\ 337.2 -0.36\\ 338.6 -0.04\\ 339.9 0.42\\ 341.3 0.97\\ 342.7 1.42\\ 344 1.79\\ 345.4 1.97\\ 346.8 1.74\\ 348.1 1.42\\ 349.5 0.88\\ 350.9 0.28\\ 352.2 -0.22\\ 353.6 -0.49\\ 355 -0.54\\ 356.3 -0.68\\ 357.7 -0.72\\ 359 -0.40\\ 360.4 0.05\\ 361.8 0.51\\ 363.1 0.79\\ 364.5 0.97\\ 365.9 1.42\\ 367.2 1.97\\ 368.6 2.34\\ 370 2.29\\ 371.3 2.11\\ 372.7 1.42\\ 374.1 0.51\\ 375.4 -0.31\\ 376.8 -0.86\\ 378.2 -1.32\\ 379.5 -1.50\\ 380.9 -1.32\\ 382.3 -0.86\\ 383.6 -0.40\\ 385 -0.54\\ 386.3 -0.81\\ 387.7 -0.31\\ 389.1 -0.40\\ 390.4 -0.29\\ 391.8 -0.31\\ 393.2 -0.49\\ 394.5 -0.17\\ 395.9 0.37\\ 397.3 0.24\\ 398.6 -0.22\\ 400 -0.63\\ 401.4 -1.09\\ 402.7 -1.41\\ 404.1 -1.63\\ 405.5 -1.45\\ 406.8 -1.22\\ 408.2 -1.00\\ 409.6 -0.77\\ 410.9 -0.54\\ 413.5 -0.45\\ 417 -0.31\\ 422.2 0.37\\ 424.9 0.60\\ 427.3 0.83\\ 429 0.60\\ 430.7 0.05\\ 432.4 -0.40\\ 434.1 -0.68\\ 436.1 -1.22\\ 438.2 -0.26\\ 440.2 0.24\\ 442.6 0.24\\ 444.6 0.28\\ 446.7 -0.17\\ 448.7 -0.54\\ 450.7 -0.90\\ 452.8 -1.09\\ 454.5 -1.06\\ 456.2 -1.45\\ 458.2 -0.40\\ 460.3 -0.04\\ 462.3 -0.22\\ 464.4 -0.40\\ 466.4 -0.72\\ 468.4 -1.04\\ 470.5 -1.13\\ 472.5 -1.22\\ 474.6 -1.50\\ 476.6 -0.40\\ 478.6 0.42\\ 480.7 0.88\\ 482.7 1.29\\ 484.8 1.15\\ 486.8 1.11\\ 488.8 0.79\\ 490.9 0.24\\ 492.9 -0.13\\ 495 -0.77\\ 497 -1.09\\ 499 -1.13\\ 501.1 -0.68\\ 503.1 -0.77\\ 505.2 -0.58\\ 507.2 -0.04\\ 509.3 -0.31\\ 511.3 -0.77\\ 513.3 -0.86\\ 515.4 -1.13\\ 517.4 -1.00\\ 519.5 -1.32\\ 521.5 -1.09\\ 523.5 -0.40\\ 525.6 -0.68\\ 527.6 -0.31\\ 529.7 0.10\\ 531.7 0.19\\ 533.7 0.51\\ 535.8 0.92\\ 537.8 0.74\\ 539.9 0.28\\ 541.9 -0.31\\ 543.9 -0.86\\ 546 -1.13\\ 548 -1.45\\ 550.1 -0.86\\ 552.1 -0.40\\ 554.1 -0.04\\ 556.2 0.51\\ 558.2 0.79\\ 560.3 0.88\\ 562.3 0.51\\ 564.4 0.24\\ 566.4 -0.17\\ 568.4 0.05\\ 570.5 0.33\\ 572.5 0.33\\ 574.6 0.05\\ 576.6 -0.68\\ 578.6 -0.77\\ 580.7 -0.68\\ 582.7 -0.04\\ 584.8 0.51\\ 586.8 0.33\\ 588.8 -0.31\\ 590.9 -0.49\\ 592.9 -0.31\\ 595 -0.58\\ 597 -0.77\\ 599 -1.09\\ 601.1 -1.32\\ 603.1 -0.95\\ 605.2 -0.17\\ 607.2 0.51\\ 609.3 1.15\\ 611.3 1.29\\ 613.3 1.15\\ 615.4 0.60\\ 617.4 0.33\\ 619.5 0.15\\ 621.5 -0.13\\ 623.5 0.51\\ 625.6 0.24\\ 627.6 -0.04\\ 629.7 -0.40\\ 631.7 -0.26\\ 633.7 -0.68\\ 635.8 -0.95\\ 637.8 -0.95\\ 639.9 -1.13\\ 641.9 -0.63\\ 643.9 0.05\\ 646 0.56\\ 648 0.88\\ 650.1 1.06\\ 652.1 0.97\\ 654.1 1.06\\ 656.2 1.24\\ 658.2 0.97\\ 660.3 -0.13\\ 662.3 -0.49\\ 664.4 -0.40\\ 666.4 -0.13\\ 668.4 0.05\\ 670.5 0.10\\ 672.5 0.15\\ 674.6 0.24\\ 676.6 0.60\\ 678.6 0.88\\ 680.7 0.60\\ 682.7 0.24\\ 684.8 0.15\\ 686.8 -0.04\\ 688.8 0.10\\ 690.9 -0.04\\ 692.9 -0.40\\ 695 -0.77\\ 697 -1.13\\ 699 -1.41\\ 701.1 -0.86\\ 703.1 0.05\\ 705.2 0.79\\ 707.2 1.01\\ 709.3 1.08\\ 711.3 0.88\\ 713.3 0.05\\ 715.4 -0.04\\ 716.7 -0.26\\ 718.8 0.15\\ 720.8 0.33\\ 722.9 0.60\\ 724.1 0.42\\ 726.2 -0.40\\ 728.3 -1.13\\ 730.3 -1.45\\ 732.4 -0.40\\ 735.1 0.24\\ 737.1 0.56\\ 739.2 0.60\\ 741.2 0.05\\ 743.3 -0.77\\ 745.3 -1.22\\ 747.3 -0.63\\ 749.4 0.51\\ 751.4 1.24\\ 753.5 1.29\\ 755.5 1.11\\ 757.6 1.11\\ 759.6 1.42\\ 761.6 1.79\\ 763 2.11\\ 764.4 1.79\\ 765.7 1.42\\ 767.8 1.11\\ 769.8 0.97\\ 771.8 0.88\\ 773.9 0.79\\ 775.1 0.51\\ 776.5 0.05\\ 777.9 -0.81\\ 780 -0.72\\ 782 -0.86\\ 784 -0.68\\ 786.1 -1.04\\ 788.2 -1.50\\ 790.2 -0.86\\ 792.2 -0.17\\ 794.3 0.42\\ 796.3 0.83\\ 798.4 0.51\\ 800.4 0.05\\ 802.4 -0.31\\ 804.5 0.01\\ 806.5 -0.40\\ 808.6 -0.81\\ 810.6 -1.09\\ 812.7 -1.18\\ 814.7 -1.27\\ 816.7 -1.13\\ 818.8 -0.95\\ 820.8 -1.27\\ 822.2 -1.45\\ 824.1 -1.09\\ 826.2 -0.86\\ 828.2 -0.77\\ 830.2 -0.86\\ 832.3 -0.40\\ 834.3 -0.68\\ 836.3 -0.81\\ 837.8 -0.56\\
}\dD

\pgfplotstableread[row sep=\\]{x y\\
1 -1.26\\ 1.9 -1.41\\ 2.8 -1.36\\ 3.9 -1.20\\ 5 -1.40\\ 6.8 -1.53\\ 7.8 -1.45\\ 8.9 -1.20\\ 10 -1.47\\ 11.2 -1.64\\ 11.9 -1.74\\ 12.8 -1.91\\ 13.9 -1.64\\ 14.8 -1.19\\ 15.9 -0.98\\ 16.9 -0.95\\ 17.9 -0.83\\ 18.8 -0.53\\ 19.5 -0.09\\ 20.6 0.47\\ 21.8 0.56\\ 22.6 0.26\\ 23.7 -0.05\\ 24.7 -0.17\\ 25.8 0.0\\ 26.9 -0.19\\ 28.3 -0.43\\ 29.6 -0.67\\ 30.8 -0.36\\ 31.9 -0.22\\ 33.1 0.19\\ 33.9 0.30\\ 34.8 0.10\\ 35.8 -0.29\\ 36.8 -0.12\\ 37.9 -0.25\\ 39.1 -0.29\\ 40 -0.38\\ 41.4 -0.43\\ 42.7 -0.64\\ 43.6 -0.26\\ 44.8 0.43\\ 45.7 0.60\\ 46.6 1.06\\ 47.5 0.90\\ 48.6 1.00\\ 49.7 0.79\\ 50.8 0.83\\ 52.6 0.88\\ 53.7 0.85\\ 54.7 0.72\\ 55.6 0.71\\ 56.5 0.98\\ 57.6 0.60\\ 58.7 0.96\\ 59.6 0.71\\ 60.7 0.64\\ 61.4 0.29\\ 62.5 -0.36\\ 63.9 -0.53\\ 65.5 -1.02\\ 66.6 -1.16\\ 67.7 -1.66\\ 68.6 -1.60\\ 69.7 -1.71\\ 70.6 -1.43\\ 71.7 -1.16\\ 72.7 -1.22\\ 73.9 -1.05\\ 75.1 -0.71\\ 76.7 0.0\\ 78.3 -0.09\\ 79.7 -0.36\\ 81.4 -0.22\\ 82.6 -0.29\\ 83.7 -0.24\\ 84.8 -0.27\\ 86.4 -0.02\\ 87.8 0.22\\ 88.7 0.22\\ 89.7 0.07\\ 90.7 0.12\\ 91.8 0.02\\ 93 -0.43\\ 94.5 -1.16\\ 95.4 -1.36\\ 96.8 -1.34\\ 97.7 -1.10\\ 98.6 -1.33\\ 99.6 -1.67\\ 100.6 -1.64\\ 101.7 -1.24\\ 102.6 -1.16\\ 104.4 -0.43\\ 105.5 -0.19\\ 107.1 0.02\\ 108.9 0.59\\ 109.8 0.64\\ 110.7 0.79\\ 111.7 1.19\\ 112.7 1.20\\ 113.5 1.34\\ 114.7 1.46\\ 115.9 1.53\\ 116.8 1.62\\ 117.8 1.55\\ 118.7 1.16\\ 120.1 0.53\\ 121.3 0.05\\ 122.3 -0.29\\ 123.4 -0.45\\ 124.6 -0.86\\ 125.7 -0.88\\ 126.8 -0.91\\ 127.9 -0.59\\ 128.8 -0.66\\ 130 -0.16\\ 131.3 0.12\\ 132.6 0.24\\ 133.5 0.59\\ 134.9 0.60\\ 136 0.67\\ 136.7 0.81\\ 137.6 1.14\\ 139.4 1.12\\ 140.6 1.00\\ 141.6 1.08\\ 142.5 0.88\\ 143.7 0.84\\ 144.8 0.79\\ 145.7 0.47\\ 146.5 0.26\\ 147.4 -0.12\\ 148.3 -0.05\\ 149.7 -0.16\\ 150.6 -0.21\\ 151.9 -0.09\\ 153.7 -0.03\\ 154.6 0.10\\ 155.7 0.05\\ 156.4 0.07\\ 157.5 -0.07\\ 158.4 0.12\\ 159.6 0.12\\ 160.4 0.22\\ 161.5 0.09\\ 162.7 0.43\\ 164 0.74\\ 165.4 1.47\\ 166.3 1.60\\ 167.4 1.71\\ 168.3 1.79\\ 169.4 1.78\\ 170.3 2.09\\ 171.7 2.07\\ 172.6 1.97\\ 173.5 1.67\\ 174.5 1.36\\ 175.5 1.32\\ 176.4 1.34\\ 177.2 1.57\\ 178.4 1.84\\ 179.5 1.87\\ 180.4 1.72\\ 181.3 1.81\\ 182.4 1.69\\ 183.3 1.90\\ 185.1 1.94\\ 186.2 1.59\\ 187.4 1.12\\ 188.3 1.11\\ 189.6 1.50\\ 191.2 1.97\\ 192.3 1.99\\ 193.4 1.64\\ 194.5 1.28\\ 195.2 1.08\\ 196.1 1.32\\ 197.2 1.34\\ 198.1 1.45\\ 199.3 1.39\\ 199.9 1.41\\ 201.3 1.41\\ 202.6 1.83\\ 203.9 2.29\\ 205 2.24\\ 206.2 2.00\\ 207.5 1.76\\ 208.9 1.53\\ 210 1.29\\ 211.1 1.12\\ 212 1.05\\ 213.1 0.93\\ 214.3 0.98\\ 216 1.07\\ 216.9 0.93\\ 218.1 0.79\\ 219 0.43\\ 219.9 0.41\\ 221.4 0.26\\ 223.6 0.02\\
}\dE

\pgfplotsset{
  panel/.style={scale only axis, anchor=south west, axis on top, no markers,
    axis background/.style={fill=white},
    grid=major, major grid style={draw=gridgray, line width=0.8pt},
    axis line style={line width=0.9pt, black},
    tick style={black, line width=0.8pt},
    major tick length=3.6pt, minor tick length=2.2pt,
    tick align=outside, tick pos=left,
    xlabel={Position}, ylabel={Score},
    label style={font=\fontsize{12.4}{15}\selectfont},
    ylabel style={at={(ticklabel cs:0.5,3pt)}},
    tick label style={font=\fontsize{9.8}{11.5}\selectfont},
    /pgf/number format/assume math mode=true,
    scaled ticks=false,
  },
  lineaxis/.style={scale only axis, anchor=south west, hide axis, no markers},
}
\newcommand{\legbox}{\draw[draw=black!22, fill=white, line width=0.8pt, rounded corners=2pt] (rel axis cs:0.967,0.949) rectangle (rel axis cs:0.985,0.979);}
\tikzset{scoreline/.style={color=mplblue, line width=1.9pt, line join=round, mark=none}}

\begin{document}
\begin{tikzpicture}
\path[use as bounding box, fill=white] (0,0) rectangle (44.96,41.12);
\fill[panelgray] (1.291,27.561) rectangle (22.428,39.837);
\fill[panelgray] (23.804,27.648) rectangle (44.884,39.837);
\fill[panelgray] (1.291,13.795) rectangle (22.428,26.156);
\fill[panelgray] (23.804,14.025) rectangle (44.884,26.156);
\fill[panelgray] (1.291,0.115) rectangle (22.428,12.447);
\node[font=\lettf\bfseries\fontsize{43}{43}\selectfont, inner sep=0pt] at (0.76,40.34) {A};
\node[font=\lettf\bfseries\fontsize{43}{43}\selectfont, inner sep=0pt] at (23.27,40.38) {B};
\node[font=\lettf\bfseries\fontsize{43}{43}\selectfont, inner sep=0pt] at (0.72,26.54) {C};
\node[font=\lettf\bfseries\fontsize{43}{43}\selectfont, inner sep=0pt] at (23.30,26.57) {D};
\node[font=\lettf\bfseries\fontsize{43}{43}\selectfont, inner sep=0pt] at (0.72,12.89) {E};

% ---------- A ----------
\begin{axis}[panel, at={(2.868cm,28.737cm)}, width=19.273cm, height=11.013cm,
  xmin=-45, xmax=948, ymin=0.1516, ymax=0.7117,
  xtick={-40,-20,...,940}, minor xtick={-44,-40,...,948},
  ytick={0.2,0.3,0.4,0.5,0.6,0.7}, yticklabels={0.2,0.3,0.4,0.5,0.6,0.7}]
\addplot[fill=fy, draw=none, mark=none] table[x=x, y expr={max(\thisrow{y},0.5)}] {\dA} -- (axis cs:903,0.5) -- (axis cs:0,0.5) -- cycle;
\addplot[fill=fg, draw=none, mark=none] table[x=x, y expr={min(\thisrow{y},0.5)}] {\dA} -- (axis cs:903,0.5) -- (axis cs:0,0.5) -- cycle;
\end{axis}
\begin{axis}[lineaxis, at={(2.868cm,28.737cm)}, width=19.273cm, height=11.013cm,
  xmin=-45, xmax=948, ymin=0.1516, ymax=0.7117]
\addplot[scoreline] table[x=x, y=y] {\dA};
\legbox
\end{axis}

% ---------- B ----------
\begin{axis}[panel, at={(25.468cm,28.995cm)}, width=19.216cm, height=10.755cm,
  xmin=-25.5, xmax=536.5, ymin=-2.71, ymax=3.45,
  xtick={-20,0,...,520}, minor xtick={-24,-20,...,536},
  ytick={-2,-1,0,1,2,3}, yticklabels={−2,−1,0,1,2,3}]
\addplot[fill=fy, draw=none, mark=none] table[x=x, y expr={max(\thisrow{y},0.5)}] {\dB} -- (axis cs:510.8,0.5) -- (axis cs:0,0.5) -- cycle;
\addplot[fill=fg, draw=none, mark=none] table[x=x, y expr={min(\thisrow{y},0.5)}] {\dB} -- (axis cs:510.8,0.5) -- (axis cs:0,0.5) -- cycle;
\end{axis}
\begin{axis}[lineaxis, at={(25.468cm,28.995cm)}, width=19.216cm, height=10.755cm,
  xmin=-25.5, xmax=536.5, ymin=-2.71, ymax=3.45]
\addplot[scoreline] table[x=x, y=y] {\dB};
\legbox
\end{axis}

% ---------- C ----------
\begin{axis}[panel, at={(2.868cm,15.028cm)}, width=19.445cm, height=10.984cm,
  xmin=-19.7, xmax=413.7, ymin=-2.97, ymax=2.60,
  xtick={0,20,...,400}, minor xtick={-16,-12,...,412},
  ytick={-2,-1,0,1,2}, yticklabels={−2,−1,0,1,2}]
\addplot[fill=fy, draw=none, mark=none] table[x=x, y expr={max(\thisrow{y},0.5)}] {\dC} -- (axis cs:394,0.5) -- (axis cs:0.5,0.5) -- cycle;
\addplot[fill=fg, draw=none, mark=none] table[x=x, y expr={min(\thisrow{y},0.5)}] {\dC} -- (axis cs:394,0.5) -- (axis cs:0.5,0.5) -- cycle;
\end{axis}
\begin{axis}[lineaxis, at={(2.868cm,15.028cm)}, width=19.445cm, height=10.984cm,
  xmin=-19.7, xmax=413.7, ymin=-2.97, ymax=2.60]
\addplot[scoreline] table[x=x, y=y] {\dC};
\legbox
\end{axis}

% ---------- D ----------
\begin{axis}[panel, at={(25.468cm,15.229cm)}, width=19.216cm, height=10.784cm,
  xmin=-41.8, xmax=878.5, ymin=-2.63, ymax=3.52,
  xtick={-40,-20,...,860}, minor xtick={-40,-36,...,876},
  ytick={-2,-1,0,1,2,3}, yticklabels={−2,−1,0,1,2,3}]
\addplot[fill=fy, draw=none, mark=none] table[x=x, y expr={max(\thisrow{y},0.5)}] {\dD} -- (axis cs:837.8,0.5) -- (axis cs:0,0.5) -- cycle;
\addplot[fill=fg, draw=none, mark=none] table[x=x, y expr={min(\thisrow{y},0.5)}] {\dD} -- (axis cs:837.8,0.5) -- (axis cs:0,0.5) -- cycle;
\end{axis}
\begin{axis}[lineaxis, at={(25.468cm,15.229cm)}, width=19.216cm, height=10.784cm,
  xmin=-41.8, xmax=878.5, ymin=-2.63, ymax=3.52]
\addplot[scoreline] table[x=x, y=y] {\dD};
\legbox
\end{axis}

% ---------- E ----------
\begin{axis}[panel, at={(2.868cm,1.405cm)}, width=19.359cm, height=10.898cm,
  xmin=-10.15, xmax=235.15, ymin=-2.10, ymax=2.50,
  xtick={0,20,...,220}, minor xtick={-10,-5,...,235},
  ytick={-2,-1,0,1,2}, yticklabels={−2,−1,0,1,2}]
\addplot[fill=fy, draw=none, mark=none] table[x=x, y expr={max(\thisrow{y},0.5)}] {\dE} -- (axis cs:223.6,0.5) -- (axis cs:1,0.5) -- cycle;
\addplot[fill=fg, draw=none, mark=none] table[x=x, y expr={min(\thisrow{y},0.5)}] {\dE} -- (axis cs:223.6,0.5) -- (axis cs:1,0.5) -- cycle;
\end{axis}
\begin{axis}[lineaxis, at={(2.868cm,1.405cm)}, width=19.359cm, height=10.898cm,
  xmin=-10.15, xmax=235.15, ymin=-2.10, ymax=2.50]
\addplot[scoreline] table[x=x, y=y] {\dE};
\legbox
\end{axis}
\end{tikzpicture}
\end{document}
